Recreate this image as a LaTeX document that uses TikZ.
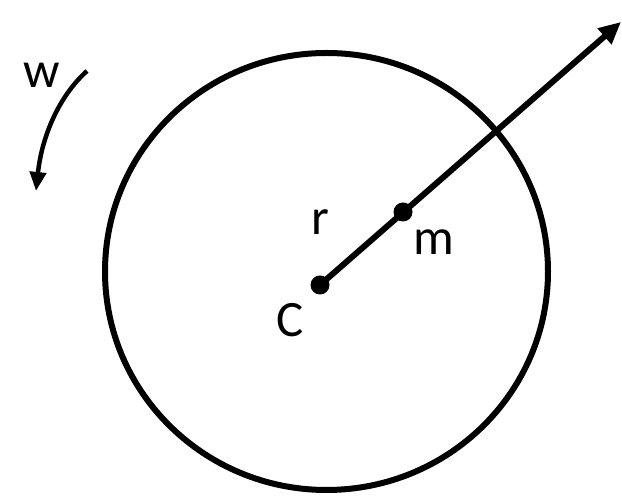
\documentclass[tikz,border=0pt]{standalone}
\usepackage{fontspec}
\setmainfont{Carlito}
\usetikzlibrary{arrows.meta}

\begin{document}
\begin{tikzpicture}[x=1pt,y=1pt,
  lbl/.style={anchor=base,font=\fontsize{51}{60}\selectfont}]
  \useasboundingbox (0,0) rectangle (622,497);
  \draw[line width=6pt] (326.5,225.5) ellipse [x radius=221.5, y radius=218.5];
  \coordinate (C) at (320,212);
  \coordinate (M) at (403,285);
  \coordinate (T) at (621,475);
  \draw[line width=6pt,-{Triangle[length=22pt,width=20pt]}] (C)--(T);
  \fill (C) circle (9.5pt);
  \fill (M) circle (9.5pt);
  \node[lbl] (r) at (320,262) {r};
  \node[lbl] (m) at (434,242) {m};
  \node[lbl] (c) at (290,160) {C};
  \node[lbl] (w) at (42,409) {w};
  \coordinate (W1) at (87,426);
  \coordinate (W2) at (36,306);
  \draw[line width=4.5pt,-{Triangle[length=19pt,width=16pt]}] (W1) .. controls (60,402) and (42,362) .. (W2);
\end{tikzpicture}
\end{document}
